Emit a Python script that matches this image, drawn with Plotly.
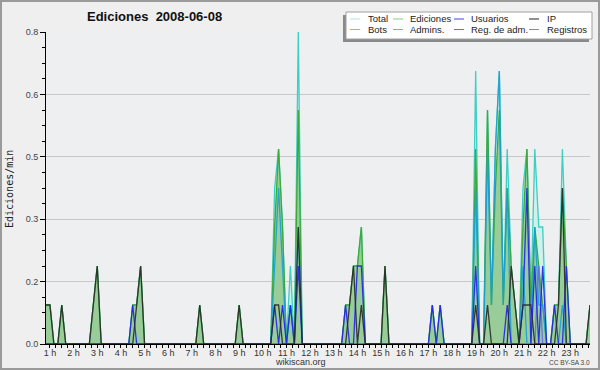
import plotly.graph_objects as go
import pandas as pd

DAY = "2008-06-08"
# 10-minute samples shown on the chart (00:50 .. 23:50)
times = pd.date_range(f"{DAY} 00:50", f"{DAY} 23:50", freq="10min")

series_names = ["Total", "Ediciones", "Usuarios", "IP", "Bots", "Admins.", "Reg. de adm.", "Registros"]

# edits/min values (only non-zero samples listed, everything else is 0)
total = {"00:50": 0.1, "01:00": 0.1, "01:30": 0.1, "02:50": 0.1, "03:00": 0.2, "04:30": 0.1, "04:40": 0.1,
         "04:50": 0.2, "07:20": 0.1, "09:00": 0.1, "10:30": 0.4, "10:40": 0.5, "10:50": 0.3, "11:10": 0.2,
         "11:30": 0.8, "13:30": 0.1, "13:40": 0.1, "13:50": 0.2, "14:00": 0.2, "14:10": 0.3, "15:10": 0.2,
         "17:10": 0.1, "17:30": 0.1, "19:00": 0.7, "19:30": 0.6, "19:40": 0.1, "19:50": 0.5, "20:00": 0.7,
         "20:10": 0.1, "20:20": 0.5, "20:30": 0.2, "20:40": 0.1, "21:00": 0.4, "21:10": 0.5, "21:20": 0.1,
         "21:30": 0.5, "21:40": 0.3, "21:50": 0.3, "22:20": 0.1, "22:30": 0.1, "22:40": 0.5, "22:50": 0.2,
         "23:50": 0.1}
ediciones = {"00:50": 0.1, "01:00": 0.1, "01:30": 0.1, "02:50": 0.1, "03:00": 0.2, "04:30": 0.1, "04:40": 0.1,
             "04:50": 0.2, "07:20": 0.1, "09:00": 0.1, "10:30": 0.3, "10:40": 0.5, "10:50": 0.3, "11:10": 0.1,
             "11:30": 0.6, "13:30": 0.1, "13:40": 0.1, "13:50": 0.2, "14:00": 0.2, "14:10": 0.3, "15:10": 0.2,
             "17:10": 0.1, "17:30": 0.1, "19:00": 0.5, "19:30": 0.6, "19:40": 0.1, "19:50": 0.4, "20:00": 0.6,
             "20:10": 0.1, "20:20": 0.4, "20:30": 0.2, "20:40": 0.1, "21:00": 0.3, "21:10": 0.5, "21:20": 0.1,
             "21:30": 0.3, "21:40": 0.2, "21:50": 0.1, "22:20": 0.1, "22:30": 0.1, "22:40": 0.4, "22:50": 0.2,
             "23:50": 0.1}
usuarios = {"04:30": 0.1, "10:30": 0.1, "10:50": 0.1, "11:10": 0.1, "11:30": 0.2, "13:30": 0.1, "14:00": 0.2,
            "14:10": 0.2, "17:10": 0.1, "17:30": 0.1, "19:00": 0.2, "20:20": 0.1, "21:00": 0.1, "21:10": 0.4,
            "21:30": 0.2, "21:50": 0.2, "22:20": 0.1, "22:50": 0.2}
ip = {"00:50": 0.1, "01:00": 0.1, "01:30": 0.1, "02:50": 0.1, "03:00": 0.2, "04:40": 0.1, "04:50": 0.2,
      "07:20": 0.1, "09:00": 0.1, "10:30": 0.1, "10:40": 0.1, "11:30": 0.3, "13:40": 0.1, "13:50": 0.2,
      "14:10": 0.1, "15:10": 0.2, "19:00": 0.1, "19:30": 0.1, "20:30": 0.2, "20:40": 0.1, "21:00": 0.1,
      "21:10": 0.1, "21:20": 0.1, "22:30": 0.1, "22:40": 0.4, "23:50": 0.1}
bots = {}
admins = {"10:30": 0.2, "10:40": 0.4, "10:50": 0.2, "11:10": 0.1, "11:30": 0.3, "19:00": 0.4, "19:30": 0.5,
          "19:40": 0.1, "19:50": 0.5, "20:00": 0.7, "20:10": 0.1, "20:20": 0.4, "21:00": 0.2, "21:30": 0.3,
          "21:40": 0.1, "21:50": 0.1, "22:40": 0.1}
reg_adm = {}
registros = {"21:40": 0.2}

hour_ticks = [f"{DAY} {h:02d}:00" for h in range(1, 24)]
hour_labels = ["1 h", "2 h", "3 h", "4 h", "5 h", "6 h", "7 h", "8 h", "9 h", "10 h", "11 h", "12 h",
               "13 h", "14 h", "15 h", "16 h", "17 h", "18 h", "19 h", "20 h", "21 h", "22 h", "23 h"]
y_ticks = [0, 0.16, 0.32, 0.48, 0.64, 0.8]
y_labels = ["0.0", "0.2", "0.3", "0.5", "0.6", "0.8"]


def expand(d):
    return [d.get(t.strftime("%H:%M"), 0.0) for t in times]


line_colors = ["#3ccfc2", "#3aaa3a", "#2222ee", "#2a2a2a", "#f0a040", "#1aa0d8", "#cc44cc", "#6a6aee"]
legend_colors = ["#aee3e3", "#88cc88", "#4444dd", "#222222", "#f0a040", "#44c4d4", "#cc44cc", "#8080e8"]
data = [total, ediciones, usuarios, ip, bots, admins, reg_adm, registros]

fig = go.Figure()
fig.add_trace(go.Scatter(x=times, y=expand(total), mode="lines", fill="tozeroy",
                         fillcolor="rgba(205,238,234,0.9)", line=dict(color=line_colors[0], width=1.3),
                         showlegend=False))
fig.add_trace(go.Scatter(x=times, y=expand(ediciones), mode="lines", fill="tozeroy",
                         fillcolor="rgba(150,203,150,0.97)", line=dict(color=line_colors[1], width=1.3),
                         showlegend=False))
for idx in [4, 6, 7, 5, 2, 3]:
    fig.add_trace(go.Scatter(x=times, y=expand(data[idx]), mode="lines",
                             line=dict(color=line_colors[idx], width=1.3), opacity=0.9,
                             showlegend=False))

# pixel helpers for decorations
L, R, T, B = 46, 590, 32, 344


def px(x):
    return (x - L) / (R - L)


def py(y):
    return (B - y) / (B - T)


shapes = []
annotations = []
# outer frame
shapes.append(dict(type="rect", xref="paper", yref="paper", x0=px(1), x1=px(599), y0=py(1), y1=py(369),
                   line=dict(color="#9a9a9a", width=2), layer="below"))
# legend box with shadow
shapes.append(dict(type="rect", xref="paper", yref="paper", x0=px(343), x1=px(589), y0=py(15), y1=py(42),
                   fillcolor="#8a8a8a", line=dict(width=0)))
shapes.append(dict(type="rect", xref="paper", yref="paper", x0=px(346), x1=px(592), y0=py(12), y1=py(39),
                   fillcolor="#ffffff", line=dict(color="#a0a0a0", width=1)))
sample_x = [350, 393, 454, 529]
text_x = [366, 408, 469, 545]
row_y = [19, 29.5]
for i, name in enumerate(series_names):
    c, r = i % 4, i // 4
    shapes.append(dict(type="line", xref="paper", yref="paper", x0=px(sample_x[c]), x1=px(sample_x[c] + 10),
                       y0=py(row_y[r]), y1=py(row_y[r]), line=dict(color=legend_colors[i], width=1)))
    annotations.append(dict(text=name, xref="paper", yref="paper", x=px(text_x[c]), y=py(row_y[r]),
                            xanchor="left", yanchor="middle", showarrow=False,
                            font=dict(family="Liberation Sans", size=9.5, color="#222")))
# title
annotations.append(dict(text="<b>Ediciones  2008-06-08</b>", xref="paper", yref="paper", x=px(154), y=py(17),
                        xanchor="center", yanchor="middle", showarrow=False,
                        font=dict(family="Liberation Sans", size=13, color="#111")))
# y title
annotations.append(dict(text="Ediciones/min", xref="paper", yref="paper", x=px(9), y=py(189), textangle=-90,
                        xanchor="center", yanchor="middle", showarrow=False,
                        font=dict(family="DejaVu Sans Mono", size=10, color="#222")))
# footer
annotations.append(dict(text="wikiscan.org", xref="paper", yref="paper", x=px(300), y=py(361.5),
                        xanchor="center", yanchor="middle", showarrow=False,
                        font=dict(family="Liberation Sans", size=9, color="#333")))
annotations.append(dict(text="CC BY-SA 3.0", xref="paper", yref="paper", x=px(569), y=py(362),
                        xanchor="center", yanchor="middle", showarrow=False,
                        font=dict(family="Liberation Sans", size=6.5, color="#444")))

fig.update_layout(
    width=600, height=370, autosize=False,
    margin=dict(l=L, r=600 - R, t=T, b=370 - B, pad=0),
    paper_bgcolor="#efefef", plot_bgcolor="#eeeff1",
    showlegend=False, shapes=shapes, annotations=annotations,
    xaxis=dict(type="date", range=[times[0], times[-1]], showline=True, linecolor="#000", linewidth=1,
               ticks="outside", ticklen=3, tickcolor="#000", tickvals=hour_ticks, ticktext=hour_labels,
               ticklabelstandoff=-3,
               tickfont=dict(family="Liberation Sans", size=9, color="#333"), showgrid=False, zeroline=False,
               minor=dict(ticks="outside", ticklen=3, tickcolor="#000", dtick=15 * 60 * 1000,
                          tick0=f"{DAY} 00:00", showgrid=False)),
    yaxis=dict(range=[0, 0.8], showline=True, linecolor="#000", linewidth=1, ticks="outside", ticklen=5,
               tickcolor="#000", tickvals=y_ticks, ticktext=y_labels,
               tickfont=dict(family="Liberation Sans", size=9, color="#444"), showgrid=True,
               gridcolor="#c8c8c8", gridwidth=1, zeroline=False,
               minor=dict(ticks="outside", ticklen=3, tickcolor="#000", tickmode="linear", tick0=0, dtick=0.04,
                          showgrid=False)),
)

fig.write_html("out.html")
